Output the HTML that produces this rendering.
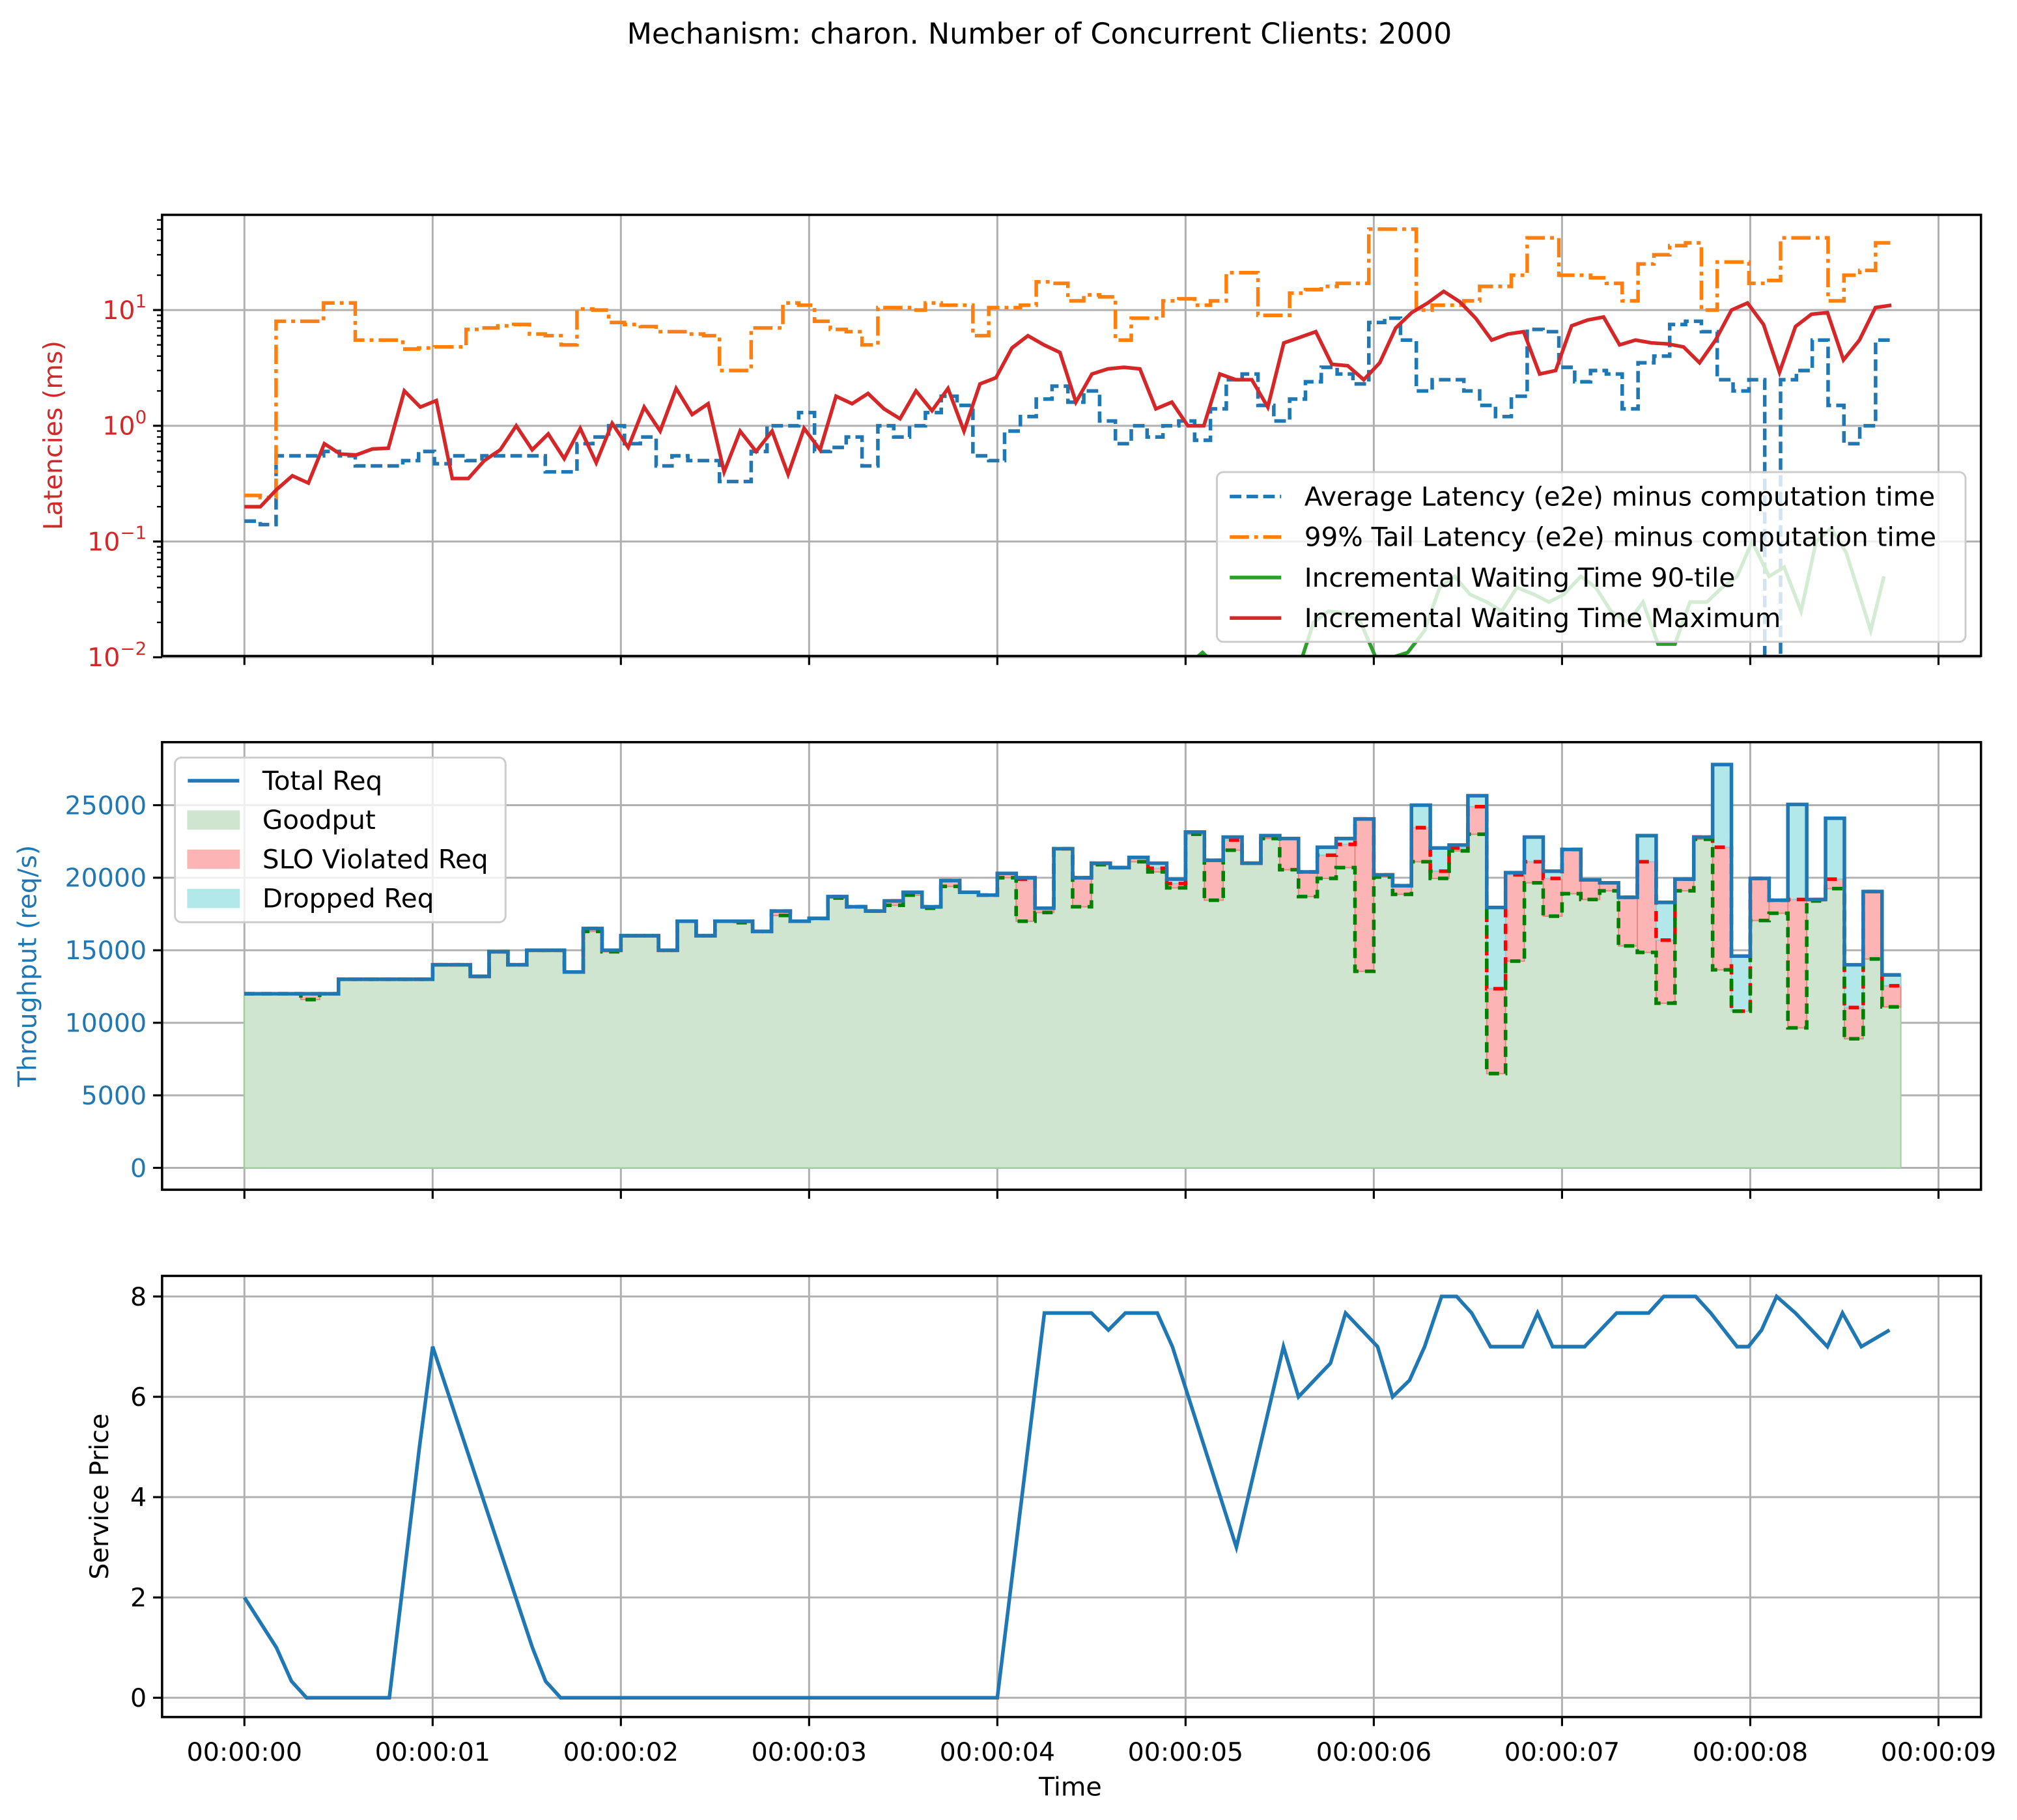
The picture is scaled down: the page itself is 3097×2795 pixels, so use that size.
<!DOCTYPE html>
<html><head><meta charset="utf-8"><style>
html,body{margin:0;padding:0;background:#fff}
svg{display:block;font-family:"DejaVu Sans","Liberation Sans",sans-serif}
</style></head><body>
<svg id="fig" xmlns="http://www.w3.org/2000/svg" width="3097" height="2795" viewBox="0 0 1568 1415">
<rect width="1568" height="1415" fill="#fff"/>
<text x="808" y="34" font-size="22.5" text-anchor="middle">Mechanism: charon. Number of Concurrent Clients: 2000</text>
<g id="p1"></g>
<g id="p2"></g>
<g id="p3"></g>
<text x="832" y="1396" font-size="20" text-anchor="middle">Time</text>
</svg>
<script>
// ---- data ----
const xTickLabels = ["00:00:00","00:00:01","00:00:02","00:00:03","00:00:04","00:00:05","00:00:06","00:00:07","00:00:08","00:00:09"];
const latEnd = 8.75;
const avgLatency = [0.15,0.14,0.55,0.55,0.55,0.6,0.55,0.45,0.45,0.45,0.5,0.6,0.47,0.55,0.5,0.55,0.55,0.55,0.55,0.4,0.4,0.7,0.8,1.0,0.7,0.8,0.45,0.55,0.5,0.5,0.33,0.33,0.6,1.0,1.0,1.3,0.6,0.65,0.8,0.45,1.0,0.8,1.0,1.3,1.8,1.5,0.55,0.5,0.9,1.2,1.7,2.2,1.6,2.0,1.1,0.7,1.0,0.8,1.0,1.1,0.75,1.4,2.5,2.8,1.5,1.1,1.7,2.4,3.2,2.8,2.3,7.8,8.5,5.5,2.0,2.5,2.5,2.0,1.5,1.2,1.8,6.8,6.5,3.2,2.4,3.0,2.8,1.4,3.5,4.0,7.5,8.0,6.5,2.5,2.0,2.5,0.005,2.5,3.0,5.5,1.5,0.7,1.0,5.5,5.5];
const tailLatency = [0.25,0.24,8.0,8.0,8.0,11.5,11.5,5.5,5.5,5.5,4.6,4.7,4.8,4.8,6.8,7.0,7.3,7.5,6.2,6.0,5.0,10.2,10.0,7.8,7.5,7.2,6.5,6.5,6.2,6.0,3.0,3.0,7.0,7.0,11.5,11.0,8.0,6.8,6.5,5.0,10.5,10.5,10.0,11.5,11.0,11.0,6.0,10.5,10.5,11.0,17.5,17.0,12.0,13.5,13.0,5.5,8.5,8.5,12.0,12.5,11.0,12.0,21.0,21.0,9.0,9.0,14,15,16,17,17,50,50,50,10,11,11,12,16,16,20,42,42,20,20,19,17,12,25,30,36,38,10,26,26,17,18,42,42,42,12,20,22,38,36];
const maxWait = [0.2,0.2,0.28,0.37,0.32,0.7,0.57,0.56,0.63,0.64,2.0,1.45,1.65,0.35,0.35,0.5,0.62,1.0,0.62,0.85,0.52,0.95,0.48,1.05,0.65,1.45,0.9,2.1,1.25,1.55,0.4,0.9,0.6,0.9,0.38,0.95,0.62,1.8,1.55,1.9,1.4,1.15,2.0,1.35,2.1,0.9,2.3,2.6,4.7,6.0,5.0,4.3,1.6,2.8,3.1,3.2,3.1,1.4,1.6,1.0,1.0,2.8,2.5,2.5,1.45,5.2,5.8,6.5,3.4,3.3,2.5,3.5,7.0,9.5,11.5,14.5,11.8,8.5,5.5,6.2,6.5,2.8,3.0,7.3,8.2,8.7,5.0,5.5,5.2,5.1,4.8,3.5,5.5,10,11.5,7.5,2.9,7.2,9.2,9.5,3.7,5.5,10.5,11];
const waitT = [0,4.99,5.09,5.18,5.6,5.68,5.76,5.85,5.93,6.01,6.1,6.18,6.27,6.35,6.43,6.51,6.6,6.68,6.76,6.85,6.93,7.01,7.1,7.18,7.26,7.35,7.43,7.51,7.6,7.68,7.77,7.85,7.93,8.01,8.1,8.18,8.27,8.35,8.43,8.51,8.64,8.71];
const wait90 = [0.001,0.008,0.011,0.008,0.008,0.02,0.025,0.024,0.02,0.01,0.01,0.011,0.017,0.04,0.05,0.035,0.03,0.025,0.04,0.035,0.03,0.035,0.05,0.04,0.025,0.02,0.03,0.013,0.013,0.03,0.03,0.04,0.05,0.1,0.05,0.06,0.025,0.1,0.13,0.08,0.017,0.05];
const totalReq = [12000,12000,12000,12000,12000,13000,13000,13000,13000,13000,14000,14000,13200,14900,14000,15000,15000,13500,16500,15000,16000,16000,15000,17000,16000,17000,17000,16300,17700,17000,17200,18700,18000,17700,18400,19000,18000,19800,19000,18800,20300,20000,17900,22000,20000,21000,20700,21400,21000,19900,23150,21200,22800,21000,22900,22700,20400,22100,22700,24050,20200,19450,25000,22050,22250,25650,17950,20350,22800,20450,21950,19850,19650,18650,22900,18300,19900,22800,27800,14600,19950,18450,25050,18500,24100,14000,19050,13300];
const goodput = [12000,12000,12000,11600,12000,13000,13000,13000,13000,13000,14000,14000,13200,14900,14000,15000,15000,13500,16300,14900,16000,16000,15000,17000,16000,17000,16900,16300,17400,17000,17200,18600,18000,17700,18100,18800,17900,19400,19000,18800,20000,17000,17600,22000,18000,20900,20700,21100,20400,19300,23000,18450,21900,21000,22700,20550,18700,19950,20700,13550,20050,18850,21100,19950,21850,23000,6500,14250,19650,17350,18900,18500,19100,15300,14850,11350,19100,22650,13650,10800,17050,17550,9650,18400,19250,8900,14400,11100];
const sloTop = [12000,12000,12000,12000,12000,13000,13000,13000,13000,13000,14000,14000,13200,14900,14000,15000,15000,13500,16500,15000,16000,16000,15000,17000,16000,17000,17000,16300,17700,17000,17200,18700,18000,17700,18400,19000,18000,19800,19000,18800,20300,19900,17900,22000,20000,21000,20700,21400,20650,19600,23150,21200,22600,21000,22900,22700,20400,21550,22300,24050,20200,19450,23450,20450,22050,24900,12350,20200,21100,19950,21950,19850,19650,18650,21100,15700,19900,22800,22100,10800,19950,18450,18500,18500,19900,11050,19050,12550];
const priceT = [0,0.17,0.25,0.33,0.77,0.93,1.0,1.53,1.6,1.68,4.0,4.25,4.5,4.59,4.68,4.85,4.93,5.27,5.52,5.6,5.77,5.85,6.02,6.1,6.19,6.27,6.36,6.44,6.52,6.62,6.79,6.87,6.95,7.12,7.29,7.46,7.54,7.71,7.79,7.93,7.99,8.06,8.14,8.24,8.41,8.49,8.59,8.74];
const price = [2,1,0.33,0,0,5,7,1,0.33,0,0,7.67,7.67,7.33,7.67,7.67,7,3,7,6,6.67,7.67,7,6,6.33,7,8,8,7.67,7,7,7.67,7,7,7.67,7.67,8,8,7.67,7,7,7.33,8,7.67,7,7.67,7,7.33];
const latTicks = [-2,-1,0,1];
const tpTicks = [0,5000,10000,15000,20000,25000];
const priceTicks = [0,2,4,6,8];

// ---- helpers ----
const NS="http://www.w3.org/2000/svg";
const L=126,R=1540;
const FS=20;
const X=t=>190+t*146.33;
function mk(p,tag,attrs){const e=document.createElementNS(NS,tag);for(const k in attrs)e.setAttribute(k,attrs[k]);p.appendChild(e);return e;}
function txt(p,x,y,s,attrs){const e=mk(p,'text',Object.assign({x:x,y:y,'font-size':FS},attrs||{}));e.textContent=s;return e;}
function panel(g,top,bot,name,yTicks,Y,fmt,labelColor,ylabel,ylx,showX,minor){
  const grid=mk(g,'g',{});
  
  
  for(let i=0;i<xTickLabels.length;i++){const x=X(i);mk(grid,'line',{x1:x,x2:x,y1:top,y2:bot,stroke:'#b0b0b0','stroke-width':1.5});}
  yTicks.forEach(v=>{const y=Y(v);mk(grid,'line',{x1:L,x2:R,y1:y,y2:y,stroke:'#b0b0b0','stroke-width':1.5});});
  const clip=mk(g,'clipPath',{id:'c'+name});mk(clip,'rect',{x:L,y:top,width:R-L,height:bot-top});
  const plot=mk(g,'g',{'clip-path':'url(#c'+name+')'});
  const ax=mk(g,'g',{});
  
  
  return {plot:plot,ax:ax,finish:function(){
    mk(ax,'rect',{x:L,y:top,width:R-L,height:bot-top,fill:'none',stroke:'#000','stroke-width':1.8});
    for(let i=0;i<xTickLabels.length;i++){const x=X(i);mk(ax,'line',{x1:x,x2:x,y1:bot,y2:bot+7,stroke:'#000','stroke-width':1.6});
      if(showX){const t=txt(ax,x,bot+34,xTickLabels[i],{'text-anchor':'middle'});
      
      }}
    yTicks.forEach(v=>{const y=Y(v);mk(ax,'line',{x1:L-7,x2:L,y1:y,y2:y,stroke:'#000','stroke-width':1.6});fmt(ax,v,y);});
    if(minor)minor(ax);
    const yl=txt(ax,ylx,(top+bot)/2,ylabel,{'text-anchor':'middle',fill:labelColor,transform:'rotate(-90 '+ylx+' '+(top+bot)/2+')'});
    
    
  }};
}
function pathD(ts,vs,X_,Y_,step){let d='';for(let i=0;i<ts.length;i++){const x=X_(ts[i]),y=Y_(vs[i]);if(i==0)d+='M'+x+' '+y;else if(step){d+='H'+x+'V'+y;}else d+='L'+x+' '+y;}return d;}
function uniT(n){const a=[];for(let i=0;i<n;i++)a.push(i*latEnd/(n-1));return a;}

// ---- Panel 1: latency ----
(function(){
  const g=document.getElementById('p1');const top=167,bot=510;
  const Y=v=>331-90*Math.log10(v);
  const p=panel(g,top,bot,'latency',latTicks.map(e=>Math.pow(10,e)),Y,function(ax,v,y){
    const e=Math.round(Math.log10(v));
    const t=txt(ax,L-12,y+7,'10',{'text-anchor':'end',fill:'#d62728'});
    const s=mk(t,'tspan',{dy:-9,'font-size':14});s.textContent=e<0?'\u2212'+(-e):String(e);
    
    
  },'#d62728','Latencies (ms)',48,false,function(ax){
    for(let d=-2;d<=1;d++)for(let m=2;m<=9;m++){const y=Y(m*Math.pow(10,d));if(y>=top)mk(ax,'line',{x1:L-4,x2:L,y1:y,y2:y,stroke:'#000','stroke-width':1.2});}
  });
  const a=mk(p.plot,'path',{d:pathD(uniT(avgLatency.length),avgLatency,X,Y,true),fill:'none',stroke:'#1f77b4','stroke-width':2.8,'stroke-dasharray':'9,4'});
  
  
  const o=mk(p.plot,'path',{d:pathD(uniT(tailLatency.length),tailLatency,X,Y,true),fill:'none',stroke:'#ff7f0e','stroke-width':2.8,'stroke-dasharray':'15,4,3,4'});
  
  
  const gr=mk(p.plot,'path',{d:pathD(waitT,wait90,X,Y,false),fill:'none',stroke:'#2ca02c','stroke-width':2.8});
  
  
  const r=mk(p.plot,'path',{d:pathD(uniT(maxWait.length),maxWait,X,Y,false),fill:'none',stroke:'#d62728','stroke-width':2.8});
  
  
  const lg=mk(g,'g',{});
  
  
  mk(lg,'rect',{x:946,y:367,width:582,height:132,rx:5,fill:'#fff','fill-opacity':0.8,stroke:'#ccc','stroke-width':1.5});
  const items=[['Average Latency (e2e) minus computation time','#1f77b4','9,4'],['99% Tail Latency (e2e) minus computation time','#ff7f0e','15,4,3,4'],['Incremental Waiting Time 90-tile','#2ca02c',''],['Incremental Waiting Time Maximum','#d62728','']];
  items.forEach((it,i)=>{const y=386+i*31.5;
    const e=mk(lg,'g',{});
    
    
    mk(e,'line',{x1:956,x2:996,y1:y,y2:y,stroke:it[1],'stroke-width':2.8,'stroke-dasharray':it[2]||'none'});
    txt(e,1014,y+7,it[0],{'font-size':20.5});});
  p.finish();
})();

// ---- Panel 2: throughput ----
(function(){
  const g=document.getElementById('p2');const top=577,bot=925;
  const Y=v=>908-v*0.01128;
  const p=panel(g,top,bot,'throughput',tpTicks,Y,function(ax,v,y){
    const t=txt(ax,L-12,y+7,String(v),{'text-anchor':'end',fill:'#1f77b4'});
    
    
  },'#1f77b4','Throughput (req/s)',28,false);
  const n=totalReq.length,bw=0.1;
  function stepPath(vals){let d='M'+X(0)+' '+Y(vals[0]);for(let i=0;i<n;i++){d+='H'+X((i+1)*bw);if(i+1<n)d+='V'+Y(vals[i+1]);}return d;}
  function band(lo,hi,fill,stroke,name){let d='';for(let i=0;i<n;i++){const x0=X(i*bw),x1=X((i+1)*bw);const a=Y(lo[i]),b=Y(hi[i]);if(Math.abs(a-b)<0.01)continue;d+='M'+x0+' '+a+'H'+x1+'V'+b+'H'+x0+'Z';}
    const e=mk(p.plot,'path',{d:d,fill:fill,stroke:stroke,'stroke-width':1});
    
    }
  const ga=mk(p.plot,'path',{d:stepPath(goodput)+'V'+Y(0)+'H'+X(0)+'Z',fill:'#cfe5cf',stroke:'#9fd09f','stroke-width':1});
  
  
  band(goodput,sloTop,'#fdb4b4','#e08a84','slo-violated-area');
  band(sloTop,totalReq,'#b3e8ea','#8fcfd2','dropped-area');
  const rl=mk(p.plot,'path',{d:stepPath(sloTop),fill:'none',stroke:'#ff0000','stroke-width':2.8,'stroke-dasharray':'8,5'});
  
  
  const gl=mk(p.plot,'path',{d:stepPath(goodput),fill:'none',stroke:'#008000','stroke-width':2.8,'stroke-dasharray':'8,5'});
  
  
  const tl=mk(p.plot,'path',{d:stepPath(totalReq),fill:'none',stroke:'#1f77b4','stroke-width':2.8});
  
  
  const lg=mk(g,'g',{});
  
  
  mk(lg,'rect',{x:136,y:589,width:257,height:128,rx:5,fill:'#fff','fill-opacity':0.8,stroke:'#ccc','stroke-width':1.5});
  const items=[['Total Req','line','#1f77b4'],['Goodput','patch','#cfe5cf'],['SLO Violated Req','patch','#fdb4b4'],['Dropped Req','patch','#b3e8ea']];
  items.forEach((it,i)=>{const y=607+i*30.5;
    const e=mk(lg,'g',{});
    
    
    if(it[1]=='line')mk(e,'line',{x1:146,x2:186,y1:y,y2:y,stroke:it[2],'stroke-width':2.8});
    else mk(e,'rect',{x:146,y:y-7,width:40,height:14,fill:it[2],stroke:it[2]});
    txt(e,204,y+7,it[0],{'font-size':20.5});});
  p.finish();
})();

// ---- Panel 3: price ----
(function(){
  const g=document.getElementById('p3');const top=992,bot=1335;
  const Y=v=>1320-v*39;
  const p=panel(g,top,bot,'price',priceTicks,Y,function(ax,v,y){
    const t=txt(ax,L-12,y+7,String(v),{'text-anchor':'end'});
    
    
  },'#000','Service Price',84,true);
  const l=mk(p.plot,'path',{d:pathD(priceT,price,X,Y,false),fill:'none',stroke:'#1f77b4','stroke-width':2.8});
  
  
  p.finish();
})();
</script>
</body></html>
